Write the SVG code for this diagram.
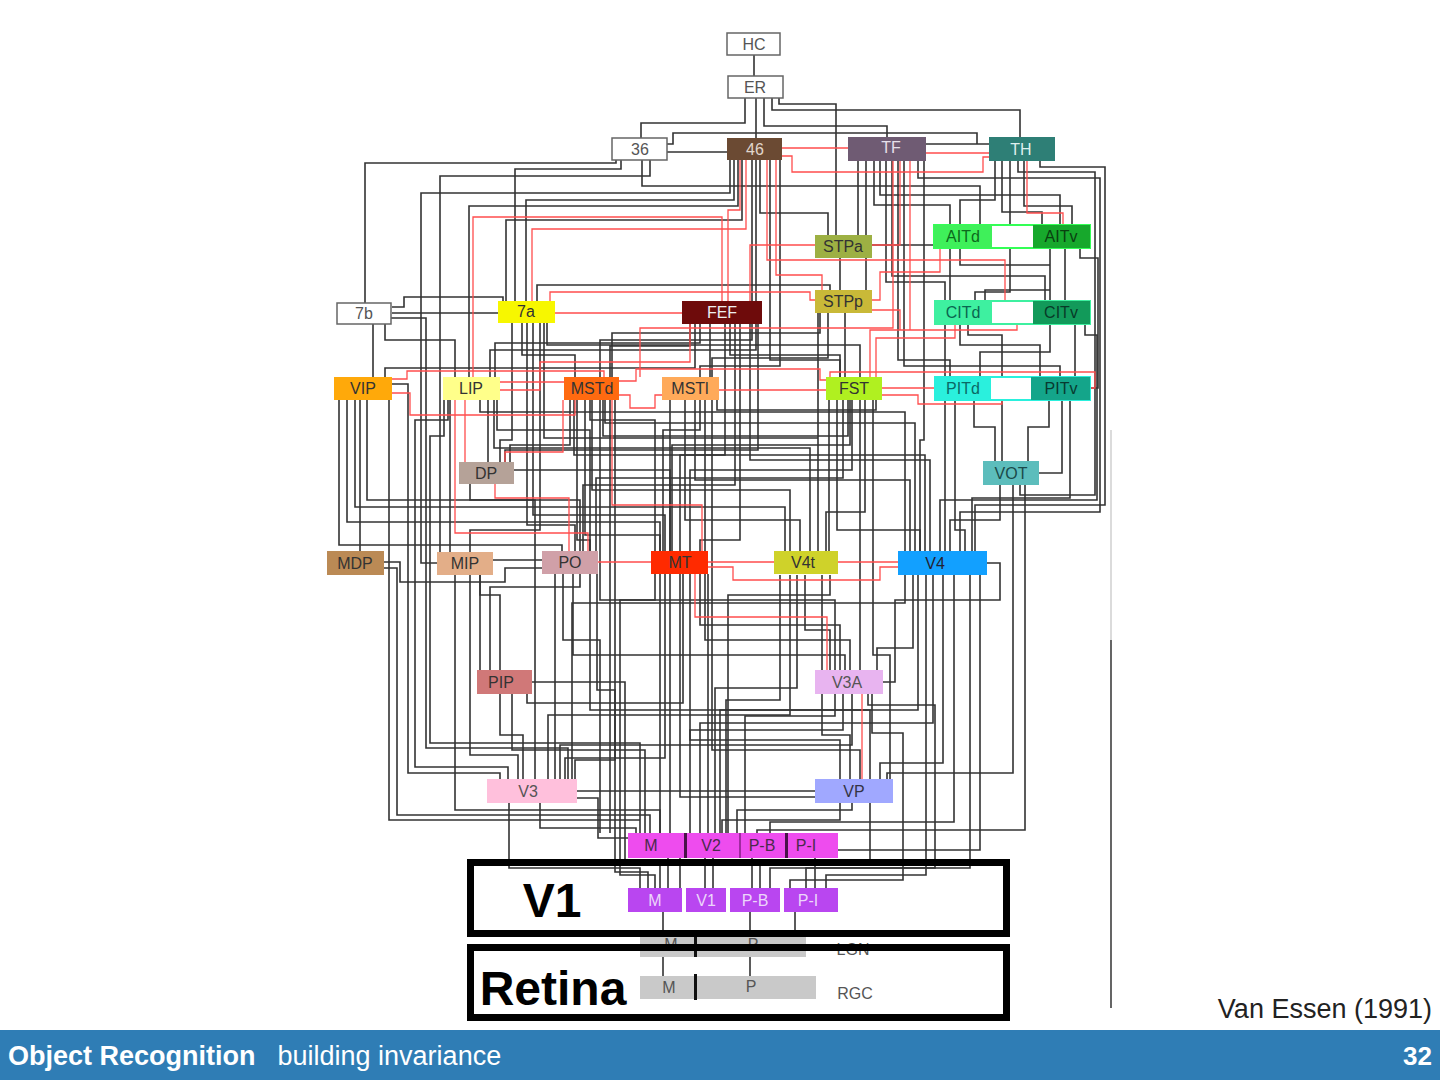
<svg xmlns="http://www.w3.org/2000/svg" width="1440" height="1080" viewBox="0 0 1440 1080">
<style>
.k{fill:none;stroke:#333;stroke-width:1.6}
.r{fill:none;stroke:#ff4d4d;stroke-width:1.3}
.t{font-family:"Liberation Sans",Arial,sans-serif;font-size:16px;text-anchor:middle}
.w{fill:#fff;stroke:#666;stroke-width:1.5}
.big{font-family:"Liberation Sans",Arial,sans-serif;font-weight:bold;font-size:48px;fill:#000}
</style>
<rect width="1440" height="1080" fill="#fff"/>
<g id="connectors">
<g class="k">
<path d="M754 55V76M745 98V123H641V138M756 98V138M764 98V126H887V137M772 98V110H1020V137M779 98V104H836V235"/>
<path d="M667 144H673V133H977V144H989M667 152H727M926 144H989"/>
<path d="M616 160V163H365V303M621 160V169H515V301M642 160V186H980V225M650 160V176H440V552M730 160V193H421V563H437"/>
<path d="M734 160V200H526V301M738 160V206H469V377M742 160V220H506V301M760 160V213H828V235M752 160V340H600V377M756 160V350H490V377M770 160V360H840V377M780 160V366H700V377"/>
<path d="M392 307H404V297H503V301M392 313H498M537 301V285H830V290"/>
<path d="M858 161V235M866 161V290M874 161V205H950V225M880 161V195H1060V225M886 161V282H945V301M892 161V276H1045V301M898 161V360H950V377M904 161V366H1060V377M918 161V178H1100V512H960V551M924 161V440H920V551"/>
<path d="M995 161V200H960V225M1002 161V212H1042V225M1010 161V292H975V301M1018 161V172H1095V495H1020V485M1024 161V206H1072V225M1040 161V167H1105V505H975V551"/>
<path d="M950 248V301M960 248V265H1050V301M1050 248V290H985V301M1065 248V301M1080 248V258H1098V388H1090"/>
<path d="M945 324V377M960 324V345H1040V377M1050 324V352H980V377M1075 324V377M1085 324V335H1097V500H940V551M968 324V335H1002V461"/>
<path d="M974 400V427H995V461M1049 400V427H1028V461M945 400V551M955 400V530H965V551M1070 400V498H972V551M1062 400V473H1039M1000 485V520H950V551M1013 485V773H887V779M1025 485V830H757V833"/>
<path d="M905 575V603H572V779M913 575V648H877V670M926 575V875H826V888M933 575V723H700V833M943 575V763H880V779M954 575V822H770V833M970 575V868H806V888"/>
<path d="M797 575V688H715V833M805 575V630H830V670M822 575V735H850V779M780 575V700H726V833"/>
<path d="M660 574V833M670 574V833M708 574V833M665 574V758H565V779M690 574V740H840V779M655 574V600H620V875H655V888"/>
<path d="M655 551V420H590V400M663 551V430H700V400M672 551V445H850V400M680 551V455H725V324"/>
<path d="M493 560H542M384 562H400V582H505V568H542M339 400V545H562V551M347 400V522H660V551M355 400V507H785V551M367 400V500H580V551"/>
<path d="M389 400V820H640V833M384 568H397V815H650V833M392 384H408V773H500V779M448 400V420H415V767H508V779M444 400V436H430V743H640V833M391 318H426V748H568V779"/>
<path d="M512 323V440H500V462M522 323V355H575V377M527 323V525H575V551M533 323V515H665V551M540 323V530H470V552M547 323V345H860V377"/>
<path d="M450 400V552M480 400V412H905V551M488 400V470H670V551M497 400V430H590V551"/>
<path d="M570 400V445H510V462M577 400V540H590V551M585 400V535H660V551M592 400V490H790V551M600 400V600H835V670M610 400V833M615 400V760H575V779"/>
<path d="M670 400V551M685 400V520H800V551M695 400V480H910V551M705 400V640H850V670M712 400V750H860V779"/>
<path d="M829 400V551M837 400V530H920V551M852 400V470H690V551M860 400V670M873 400V655H890V779"/>
<path d="M690 324V346H610V377M700 324V343H495V377M710 324V377M730 324V355H840V377M740 324V540H700V551M750 324V460H930V551M758 324V450H505V462M695 324V368H385V377"/>
<path d="M840 258V290M872 245H934M845 313V377M820 313V333H612V377M828 313V358H712V377"/>
<path d="M852 803V810H737V833M843 694V730H690V833M852 694V745H560V779M872 694V733H903V880H790V888M835 694V716H745V833M870 803V862H760V888"/>
<path d="M500 694V735H523V779M512 694V750H645V833M490 670V587H580V574M500 670V595H480V574M527 694V703H683V574"/>
<path d="M509 803V868H640V888M540 803V828H636V833M577 791H815M555 574V779M790 575V715H548V779M470 574V755H518V779M470 484V500H535V779"/>
<path d="M563 574V640H600V833M573 574V655H845V670M590 574V710H870V779M597 574V690H615V872H648V888M455 574V810H660V833M480 574V670"/>
<path d="M373 324V377M385 324V340H455V377M360 400V551"/>
<path d="M605 400V423H915V551M574 400V455H925V551M494 400V448H810V551M544 323V438H818V551M717 400V410H876V400M848 400V436H603V400M843 400V478H596V551M865 400V512H826V551M818 313V551M735 324V485H583V551"/>
<path d="M700 574V625H840V670M680 574V797H815M830 575V595H728V833M918 575V710H720V833M980 575V850H838M840 803V820H722V833"/>
<path d="M532 682H625V860H660V888M577 798H598V838H690V858M868 694V705H935V868H770V888M986 563H1000V600H895V682H883"/>
<path d="M668 858V888M680 858V888M705 858V888M713 858V888M752 858V888M815 858V888"/>
<path d="M663 912V976M750 912V976M795 912V935"/>
</g>
<g class="r">
<path d="M782 148H848M782 156H792V172H983V157H989M926 153H989"/>
<path d="M740 160V210H728V301M722 301V217H473V377M746 160V229H532V301M776 160V275H822V290M767 160V260H1005V301"/>
<path d="M555 313H682M550 301V292H810V300H815M1027 161V213H1063V225M940 248V272H880V300H872"/>
<path d="M910 161V330H870V377M900 161V245H750V301M955 324V338H876V377M893 161V328H640V377M872 310H900V330H1017V324"/>
<path d="M882 388H935M830 377V372H1095V388H1090M882 395H918V404H1002V400"/>
<path d="M719 390H826M619 381H636V369H820V380H826M500 390H540V362H690V324M392 379H407V371H604V377"/>
<path d="M708 567H733V580H880V567H898M838 562H898M708 562H774M598 562H651M695 574V617H827V670M702 551V505H612V400"/>
<path d="M455 400V533H588V551M465 400V462M495 484V498H569V551M505 462V452H563V400M392 393H410V415H575V400M500 382H564M619 395H630V408H655V395H662"/>
<path d="M862 694V779"/>
</g>
<path d="M1111 430V640" stroke="#cfcfcf" stroke-width="1.5" fill="none"/>
<path d="M1111 640V1008" stroke="#555" stroke-width="1.8" fill="none"/>
</g>

<g id="n-HC"><rect class="w" x="727" y="33" width="53" height="22"/><text class="t" x="754" y="50" fill="#555">HC</text></g>
<g id="n-ER"><rect class="w" x="728" y="76" width="55" height="22"/><text class="t" x="755" y="93" fill="#555">ER</text></g>
<g id="n-36"><rect class="w" x="612" y="138" width="55" height="22"/><text class="t" x="640" y="155" fill="#555">36</text></g>
<g id="n-46"><rect x="727" y="138" width="55" height="22" fill="#6b4a33"/><text class="t" x="755" y="155" fill="#e0d6cc">46</text></g>
<g id="n-TF"><rect x="848" y="137" width="78" height="24" fill="#6f5b73"/><text class="t" x="891" y="153" fill="#e6e0ea">TF</text></g>
<g id="n-TH"><rect x="989" y="137" width="66" height="24" fill="#2e7f76"/><text class="t" x="1021" y="155" fill="#dff0ee">TH</text></g>
<g id="n-STPa"><rect x="815" y="235" width="57" height="23" fill="#9db043"/><text class="t" x="843" y="252" fill="#333">STPa</text></g>
<g id="n-AIT"><rect x="934" y="225" width="156" height="23" fill="#fff" stroke="#3f5" stroke-width="2"/><rect x="934" y="225" width="58" height="23" fill="#3ff05a"/><rect x="1033" y="225" width="57" height="23" fill="#17a82c"/><text class="t" x="963" y="242" fill="#0c6a1c">AITd</text><text class="t" x="1061" y="242" fill="#0a4010">AITv</text></g>
<g id="n-STPp"><rect x="815" y="290" width="57" height="23" fill="#c9b938"/><text class="t" x="843" y="307" fill="#333">STPp</text></g>
<g id="n-FEF"><rect x="682" y="301" width="80" height="23" fill="#6e0b0b"/><text class="t" x="722" y="318" fill="#eee">FEF</text></g>
<g id="n-7b"><rect class="w" x="337" y="303" width="54" height="21"/><text class="t" x="364" y="319" fill="#555">7b</text></g>
<g id="n-7a"><rect x="498" y="301" width="57" height="22" fill="#f7f700"/><text class="t" x="526" y="317" fill="#333">7a</text></g>
<g id="n-CIT"><rect x="935" y="301" width="155" height="23" fill="#fff" stroke="#3ef0a0" stroke-width="2"/><rect x="935" y="301" width="57" height="23" fill="#3ef0a0"/><rect x="1033" y="301" width="57" height="23" fill="#129a5a"/><text class="t" x="963" y="318" fill="#0a6650">CITd</text><text class="t" x="1061" y="318" fill="#083a28">CITv</text></g>
<g id="n-VIP"><rect x="334" y="377" width="58" height="23" fill="#ffa90a"/><text class="t" x="363" y="394" fill="#333">VIP</text></g>
<g id="n-LIP"><rect x="443" y="377" width="57" height="23" fill="#ffff8a"/><text class="t" x="471" y="394" fill="#333">LIP</text></g>
<g id="n-MSTd"><rect x="564" y="377" width="55" height="23" fill="#ff6a10"/><text class="t" x="592" y="394" fill="#333">MSTd</text></g>
<g id="n-MSTl"><rect x="662" y="377" width="57" height="23" fill="#ffaa5a"/><text class="t" x="690" y="394" fill="#333">MSTl</text></g>
<g id="n-FST"><rect x="826" y="377" width="56" height="23" fill="#b0f020"/><text class="t" x="854" y="394" fill="#333">FST</text></g>
<g id="n-PIT"><rect x="935" y="377" width="155" height="23" fill="#fff" stroke="#2af0dd" stroke-width="2"/><rect x="935" y="377" width="56" height="23" fill="#2af0dd"/><rect x="1031" y="377" width="59" height="23" fill="#14a58a"/><text class="t" x="963" y="394" fill="#0a6a66">PITd</text><text class="t" x="1061" y="394" fill="#083a30">PITv</text></g>
<g id="n-DP"><rect x="459" y="462" width="55" height="22" fill="#b5a298"/><text class="t" x="486" y="479" fill="#333">DP</text></g>
<g id="n-VOT"><rect x="983" y="461" width="56" height="24" fill="#5cbdbc"/><text class="t" x="1011" y="479" fill="#1a4a4a">VOT</text></g>
<g id="n-MDP"><rect x="327" y="551" width="57" height="24" fill="#bb8a55"/><text class="t" x="355" y="569" fill="#333">MDP</text></g>
<g id="n-MIP"><rect x="437" y="552" width="56" height="23" fill="#e3ae88"/><text class="t" x="465" y="569" fill="#333">MIP</text></g>
<g id="n-PO"><rect x="542" y="551" width="56" height="23" fill="#d0a0a8"/><text class="t" x="570" y="568" fill="#333">PO</text></g>
<g id="n-MT"><rect x="651" y="551" width="57" height="23" fill="#ff2a00"/><text class="t" x="680" y="568" fill="#333">MT</text></g>
<g id="n-V4t"><rect x="774" y="551" width="64" height="23" fill="#cfd22a"/><text class="t" x="803" y="568" fill="#333">V4t</text></g>
<g id="n-V4"><rect x="898" y="551" width="89" height="24" fill="#12a0ff"/><text class="t" x="935" y="569" fill="#223">V4</text></g>
<g id="n-PIP"><rect x="477" y="670" width="55" height="24" fill="#d07878"/><text class="t" x="501" y="688" fill="#333">PIP</text></g>
<g id="n-V3A"><rect x="815" y="670" width="68" height="24" fill="#e8b4f0"/><text class="t" x="847" y="688" fill="#555">V3A</text></g>
<g id="n-V3"><rect x="487" y="779" width="90" height="24" fill="#ffc0dc"/><text class="t" x="528" y="797" fill="#555">V3</text></g>
<g id="n-VP"><rect x="815" y="779" width="78" height="24" fill="#a0a8ff"/><text class="t" x="854" y="797" fill="#334">VP</text></g>
<g id="n-V2">
<rect x="628" y="833" width="210" height="25" fill="#ee4cee"/>
<rect x="684" y="833" width="3" height="25" fill="#4a124a"/><rect x="739" y="833" width="2" height="25" fill="#a02aa0"/><rect x="785" y="833" width="3" height="25" fill="#4a124a"/>
<text class="t" x="651" y="851" fill="#4a2a4a" font-size="15">M</text><text class="t" x="711" y="851" fill="#4a2a4a" font-size="15">V2</text><text class="t" x="762" y="851" fill="#4a2a4a" font-size="15">P-B</text><text class="t" x="806" y="851" fill="#4a2a4a" font-size="15">P-I</text>
</g>
<g id="n-V1">
<rect x="628" y="888" width="54" height="24" fill="#b946f0"/><rect x="686" y="888" width="40" height="24" fill="#b946f0"/><rect x="730" y="888" width="50" height="24" fill="#b946f0"/><rect x="784" y="888" width="54" height="24" fill="#b946f0"/>
<text class="t" x="655" y="906" fill="#ecd6fa" font-size="15">M</text><text class="t" x="706" y="906" fill="#ecd6fa" font-size="15">V1</text><text class="t" x="755" y="906" fill="#ecd6fa" font-size="15">P-B</text><text class="t" x="808" y="906" fill="#ecd6fa" font-size="15">P-I</text>
</g>
<g id="n-LGN">
<rect x="640" y="931" width="166" height="26" fill="#c9c9c9"/><rect x="694" y="931" width="3" height="26" fill="#111"/>
<text class="t" x="671" y="950" fill="#555" font-size="14">M</text><text class="t" x="753" y="950" fill="#555" font-size="14">P</text><text class="t" x="853" y="955" fill="#555" font-size="15">LGN</text>
</g>
<g id="n-RGC">
<rect x="640" y="976" width="176" height="23" fill="#c9c9c9"/><rect x="694" y="974" width="3" height="26" fill="#111"/>
<text class="t" x="669" y="993" fill="#555" font-size="14">M</text><text class="t" x="751" y="992" fill="#555" font-size="14">P</text><text class="t" x="855" y="999" fill="#555" font-size="15">RGC</text>
</g>
<g id="box-V1"><rect x="470.5" y="862.5" width="536" height="71" fill="none" stroke="#000" stroke-width="7"/><text class="big" x="552" y="917" text-anchor="middle">V1</text></g>
<g id="box-Retina"><rect x="470.5" y="947.5" width="536" height="70" fill="none" stroke="#000" stroke-width="7"/><text class="big" x="553" y="1005" text-anchor="middle">Retina</text></g>
<text x="1432" y="1018" font-family="'Liberation Sans',Arial,sans-serif" font-size="27" fill="#222" text-anchor="end">Van Essen (1991)</text>
<g id="footer">
<rect x="0" y="1030" width="1440" height="50" fill="#2f7db5"/>
<text x="8" y="1065" font-family="'Liberation Sans',Arial,sans-serif" font-size="27" fill="#fff"><tspan font-weight="bold">Object Recognition</tspan><tspan dx="22">building invariance</tspan></text>
<text x="1432" y="1065" font-family="'Liberation Sans',Arial,sans-serif" font-size="26" font-weight="bold" fill="#fff" text-anchor="end">32</text>
</g>
</svg>
